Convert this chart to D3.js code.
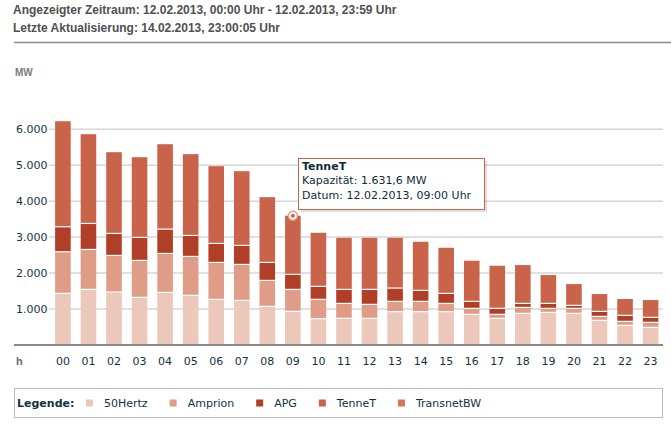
<!DOCTYPE html>
<html><head><meta charset="utf-8">
<script src="https://cdn.jsdelivr.net/npm/d3@7/dist/d3.min.js"></script>
<style>html,body{margin:0;padding:0;background:#fff;}svg{display:block;}</style>
</head><body>
<svg id="c" width="671" height="424"></svg>
<script>
const hours = ["00","01","02","03","04","05","06","07","08","09","10","11","12","13","14","15","16","17","18","19","20","21","22","23"];
const seriesNames = ["50Hertz","Amprion","APG","TenneT","TransnetBW"];
const seriesColors = ["#ecc8bb","#df9d87","#b13e27","#c9644b","#d5745d"];
const hertz50   = [1435,1546,1472,1324,1463,1380,1269,1241,1074,935,731,741,741,926,926,926,852,741,880,907,880,685,546,491];
const amprion   = [1158,1111,1019,1028,1083,1083,1027,1000,722,611,538,416,389,287,287,231,167,111,166,112,139,111,111,139];
const apg       = [694,723,611,639,676,583,528,528,500,417,361,389,416,370,306,278,194,167,111,138,83,139,167,139];
const tennet    = [2935,2481,2259,2231,2361,2260,2148,2064,1815,1631.6,1490,1435,1435,1398,1351,1269,1130,1185,1065,787,592,482,454,481];
const transnetbw= [0,0,0,0,0,0,0,0,0,0,0,0,0,0,0,0,0,0,0,0,0,0,0,0];
const yTicks = [1000,2000,3000,4000,5000,6000];
const headerLines = ["Angezeigter Zeitraum: 12.02.2013, 00:00 Uhr - 12.02.2013, 23:59 Uhr","Letzte Aktualisierung: 14.02.2013, 23:00:05 Uhr"];
const tooltipLines = ["TenneT","Kapazität: 1.631,6 MW","Datum: 12.02.2013, 09:00 Uhr"];
const tooltipHour = "09";

const svg = d3.select("#c");
const txtCol = "#12323f";
const fontV = "'DejaVu Sans', Verdana, sans-serif";

// header
svg.selectAll("text.hdr").data(headerLines).join("text")
  .attr("x", 13).attr("y", (d,i)=>14 + i*18)
  .attr("font-family","'Liberation Sans', Arial, sans-serif").attr("font-weight","bold")
  .attr("font-size","12px").attr("fill","#505050").text(d=>d);
svg.append("line").attr("x1",14).attr("x2",671).attr("y1",42.5).attr("y2",42.5)
  .attr("stroke","#8a8a8a").attr("stroke-width",1.5);
svg.append("text").attr("x",15).attr("y",76).attr("font-family","'Liberation Sans', Arial, sans-serif")
  .attr("font-weight","bold").attr("font-size","10px").attr("fill","#7a7a7a").text("MW");

const x = d3.scaleBand().domain(hours).range([50,663.5]).paddingInner(0.39).paddingOuter(0.2);
const y = d3.scaleLinear().domain([0,6000]).range([345,129.2]);

// grid
const grid = svg.append("g");
grid.selectAll("line").data(yTicks).join("line")
  .attr("x1",49).attr("x2",663).attr("y1",d=>y(d)).attr("y2",d=>y(d))
  .attr("stroke","#d6d6d6").attr("stroke-width",1.5);
const yAxis = d3.axisLeft(y).tickValues(yTicks).tickSize(0).tickPadding(0)
  .tickFormat(d=>d3.format(",")(d).replace(/,/g,"."));
const ya = svg.append("g").attr("transform","translate(47.5,0)").call(yAxis);
ya.select(".domain").remove();
ya.selectAll("text").attr("font-family",fontV).attr("font-size","11px").attr("fill",txtCol);

// stacked bars
const table = hours.map((h,i)=>({hour:h,"50Hertz":hertz50[i],"Amprion":amprion[i],"APG":apg[i],"TenneT":tennet[i],"TransnetBW":transnetbw[i]}));
const stack = d3.stack().keys(seriesNames)(table);
const color = d3.scaleOrdinal().domain(seriesNames).range(seriesColors);
const bars = svg.append("g");
stack.forEach(layer=>{
  bars.append("g").attr("fill",color(layer.key)).selectAll("rect").data(layer.filter(d=>d[1]-d[0]>0)).join("rect")
    .attr("x",d=>x(d.data.hour)).attr("width",x.bandwidth())
    .attr("y",d=>y(d[1])).attr("height",d=>Math.max(0,y(d[0])-y(d[1])));
});
// white separators between segments
stack.slice(1).forEach(layer=>{
  bars.append("g").selectAll("line").data(layer.filter(d=>d[1]-d[0]>0 && d[0]>0)).join("line")
    .attr("x1",d=>x(d.data.hour)).attr("x2",d=>x(d.data.hour)+x.bandwidth())
    .attr("y1",d=>y(d[0])).attr("y2",d=>y(d[0]))
    .attr("stroke","#fff").attr("stroke-width",1.2);
});

// x axis
svg.append("line").attr("x1",14).attr("x2",663).attr("y1",345).attr("y2",345)
  .attr("stroke","#8a8a8a").attr("stroke-width",2.2);
const xAxis = d3.axisBottom(x).tickSize(0).tickPadding(0);
const xa = svg.append("g").attr("transform","translate(0,365)").call(xAxis);
xa.select(".domain").remove();
xa.selectAll("text").attr("dy","0").attr("font-family",fontV).attr("font-size","11px").attr("fill",txtCol);
svg.append("text").attr("x",16).attr("y",365).attr("font-family","'Liberation Sans', Arial, sans-serif")
  .attr("font-weight","bold").attr("font-size","11px").attr("fill","#6a6a6a").text("h");

// legend
svg.append("rect").attr("x",14.5).attr("y",388.5).attr("width",648).attr("height",29)
  .attr("fill","none").attr("stroke","#bcbcbc").attr("stroke-width",1);
svg.append("text").attr("x",17).attr("y",407).attr("font-family",fontV).attr("font-weight","bold")
  .attr("font-size","11px").attr("fill",txtCol).text("Legende:");
let lx = 86;
seriesNames.forEach((n,i)=>{
  svg.append("rect").attr("x",lx).attr("y",399.5).attr("width",7).attr("height",7).attr("fill",seriesColors[i]);
  const t = svg.append("text").attr("x",lx+18).attr("y",407).attr("font-family",fontV)
    .attr("font-size","11px").attr("fill",txtCol).text(n);
  lx += 18 + t.node().getComputedTextLength() + 22;
});

// tooltip + marker
const ti = hours.indexOf(tooltipHour);
const topVal = hertz50[ti]+amprion[ti]+apg[ti]+tennet[ti];
const mx = x(tooltipHour)+x.bandwidth()/2, my = y(topVal);
svg.append("circle").attr("cx",mx).attr("cy",my).attr("r",4.5).attr("fill","#fff").attr("stroke","#e49a86").attr("stroke-width",1.5);
svg.append("circle").attr("cx",mx).attr("cy",my).attr("r",2).attr("fill","#c9644b");
const tg = svg.append("g");
tg.append("rect").attr("x",301).attr("y",161).attr("width",186).attr("height",51).attr("fill","#000").attr("opacity",0.12);
tg.append("rect").attr("x",298.5).attr("y",158.5).attr("width",186).attr("height",51)
  .attr("fill","#fff").attr("stroke","#c9644b").attr("stroke-width",1);
tg.selectAll("text").data(tooltipLines).join("text")
  .attr("x",302).attr("y",(d,i)=>170 + i*14.3).attr("font-family",fontV)
  .attr("font-size","11px").attr("font-weight",(d,i)=>i===0?"bold":"normal").attr("fill","#0f2c38").text(d=>d);
</script>
</body></html>
